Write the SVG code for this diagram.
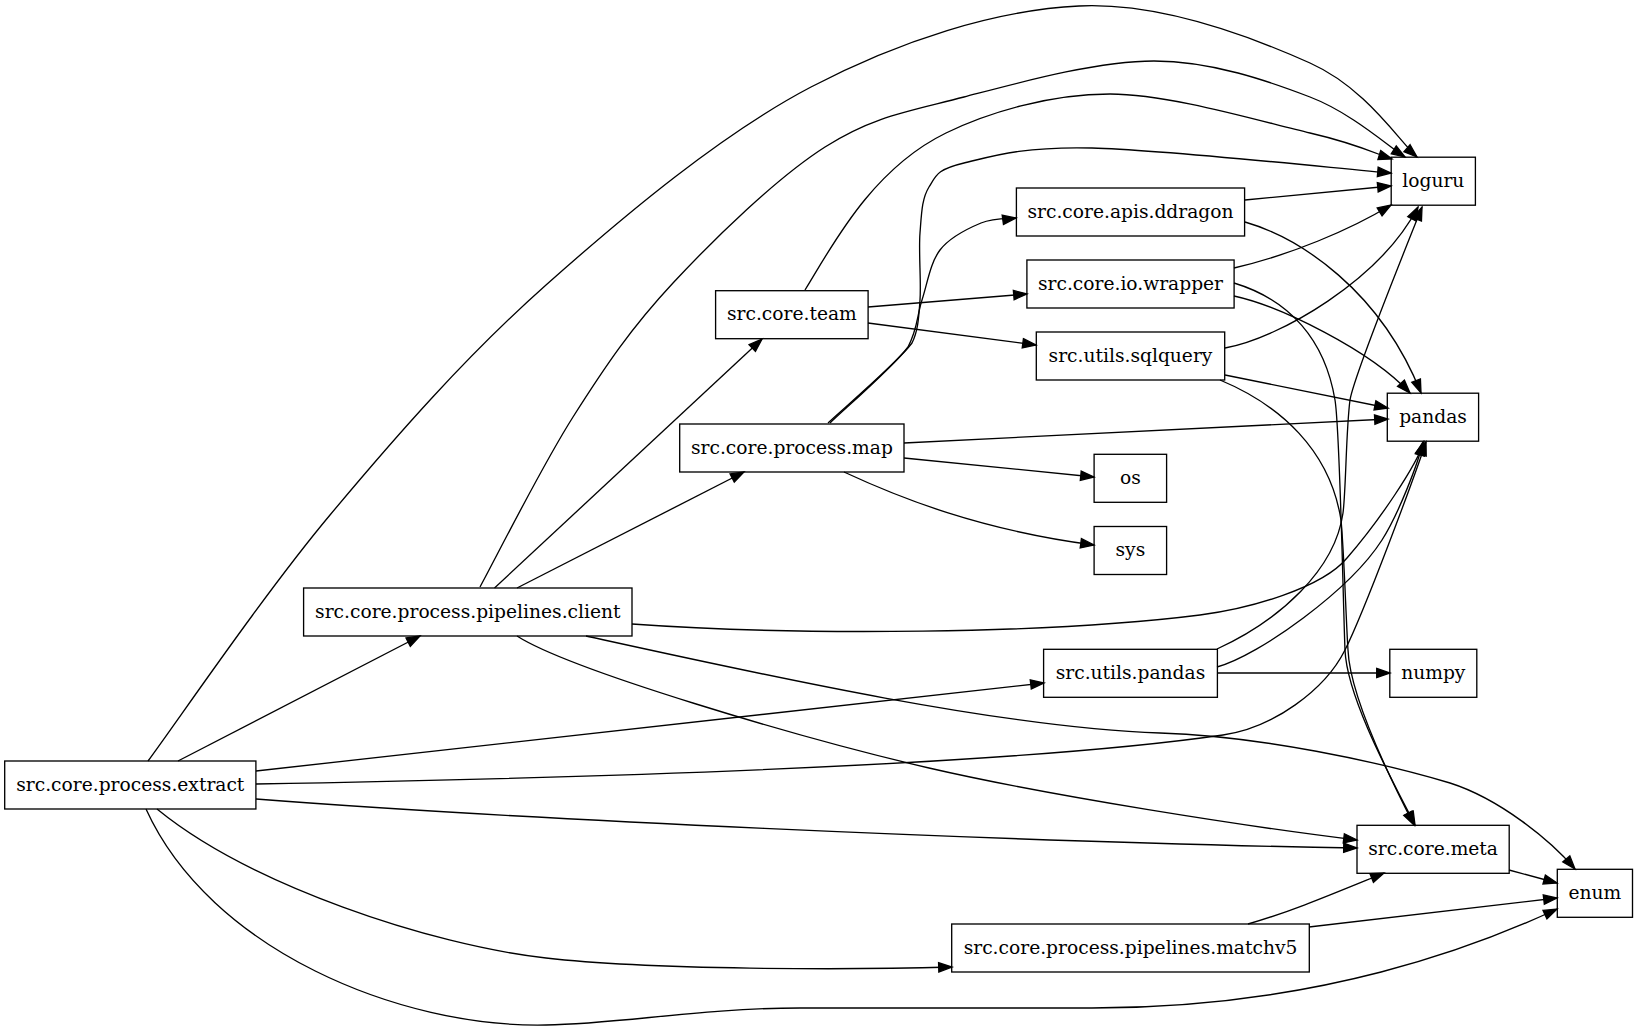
<svg xmlns="http://www.w3.org/2000/svg" width="1637" height="1031" viewBox="0 0 1637 1031">
<style>
.node rect{fill:none;stroke:#000;stroke-width:1.33}
.node text{font-family:"DejaVu Serif","Liberation Serif",serif;font-size:18.67px;text-anchor:middle;fill:#000}
.edges path{fill:none;stroke:#000;stroke-width:1.33;marker-end:url(#ah)}
</style>
<defs>
<marker id="ah" markerWidth="16" markerHeight="12" refX="13.3" refY="4.67" orient="auto" markerUnits="userSpaceOnUse" overflow="visible">
<path d="M0,0 L13.3,4.67 L0,9.33 z" fill="#000" stroke="#000" stroke-width="1.33"/>
</marker>
</defs>
<rect width="1637" height="1031" fill="#fff"/>
<g class="edges">
<path d="M148,761 C178.3,720 263.7,594.3 330,515 C396.3,435.7 465.8,356.3 546,285 C626.2,213.7 722.2,133.5 811,87 C899.8,40.5 995.8,10 1079,6 C1162.2,2 1253.7,37.8 1310,63 C1366.3,88.2 1399.2,141.3 1417,157"/>
<path d="M480,587 C495.5,558.7 540.8,467.7 573,417 C605.2,366.3 631,328 673,283 C715,238 776.5,178 825,147 C873.5,116 909.2,111.3 964,97 C1018.8,82.7 1096.3,61 1154,61 C1211.7,61 1268.2,81 1310,97 C1351.8,113 1389.2,147 1405,157"/>
<path d="M805,290 C830,250 870,170 946,133 C987.8,112.7 1049.3,94 1110,94 C1170.7,94 1263,122.2 1310,133 C1357,143.8 1378.3,154.7 1392,159"/>
<path d="M828,423 C842,409.7 896.7,363.5 912,343 C918,331 918.7,318.3 920,300 C921.3,281.7 918.5,251.8 920,233 C921.5,214.2 921.7,198.7 929,187 C936.3,175.3 936.8,169.5 964,163 C991.2,156.5 1020.8,146.3 1092,148 C1163.2,149.7 1341.2,168.8 1391,173"/>
<path d="M830,423 C843,410.3 892.7,367.5 908,347 C918,328 916.7,316.2 922,300 C927.3,283.8 930.2,262.8 940,250 C949.8,237.2 968.3,228.3 981,223 C993.7,217.7 1010.2,218.8 1016,218"/>
<path d="M494.5,588 L762,339"/>
<path d="M517,588 L744,472"/>
<path d="M178,761 L420,636"/>
<path d="M256,771 L1044,683"/>
<path d="M256,784 C700,776 1050,760 1223,735 C1273,728 1325,690 1345,650 C1365,610 1414,478 1426,442"/>
<path d="M256,799 C500,818 1000,842 1357,848"/>
<path d="M157,809 C250,885 430,945 546,958 C650,970 850,970 952,967"/>
<path d="M146,809 C210,950 400,1028 546,1025 C620,1024 700,1008 800,1008 C900,1008 1000,1008 1092,1008 C1320,1008 1480,945 1557,909"/>
<path d="M632,624 C800,636 1050,634 1200,615 C1250,608.7 1322,588 1347,558 C1380,520 1416,466 1424,442"/>
<path d="M517,636 C570,670 800,738 929,768 C1050,796 1250,827 1357,840"/>
<path d="M586,636 C750,672 1000,728 1160,733 C1260,736 1380,762 1450,783 C1500,799 1550,840 1575,869"/>
<path d="M868,307 L1027,294"/>
<path d="M868,323 L1036,345"/>
<path d="M904,443 L1388,419"/>
<path d="M904,458 L1094,477"/>
<path d="M844,472 C900,498 980,530 1094,545"/>
<path d="M1245,200 L1391,186"/>
<path d="M1245,222 C1300,238 1380,290 1421,393"/>
<path d="M1234,268 C1290,255 1350,230 1391,205"/>
<path d="M1234,296 C1280,306 1370,350 1410,393"/>
<path d="M1234,283 C1290,300 1325,340 1335,400 C1340,430 1343,600 1345,650 C1347,700 1397,789 1415,825"/>
<path d="M1225,348 C1280,338 1380,280 1418,207"/>
<path d="M1225,375 L1388,408"/>
<path d="M1220,380 C1280,405 1330,450 1341,520 C1344,550 1346,620 1348,650 C1350,700 1396,790 1414,825"/>
<path d="M1217,649 C1280,620 1335,570 1343,513 C1346,490 1346,430 1350,400 C1354,375 1405,250 1422,207"/>
<path d="M1217,667 C1260,655 1350,590 1382,540 C1398,515 1418,464 1423,442"/>
<path d="M1217,673 L1390,673"/>
<path d="M1509,870 L1557,883"/>
<path d="M1248,924 C1290,912 1330,895 1384,873"/>
<path d="M1309,927 L1557,898"/>
</g>
<g id="n-extract" class="node"><rect x="4.7" y="761" width="251.2" height="48"/><text x="130.3" y="790.6">src.core.process.extract</text></g>
<g id="n-client" class="node"><rect x="303.6" y="588" width="328.4" height="48"/><text x="467.8" y="617.6">src.core.process.pipelines.client</text></g>
<g id="n-team" class="node"><rect x="715.6" y="290.7" width="152.5" height="48"/><text x="791.9" y="320.3">src.core.team</text></g>
<g id="n-map" class="node"><rect x="679.7" y="424" width="224.3" height="48"/><text x="791.9" y="453.6">src.core.process.map</text></g>
<g id="n-ddragon" class="node"><rect x="1016.4" y="188" width="228.2" height="48"/><text x="1130.5" y="217.6">src.core.apis.ddragon</text></g>
<g id="n-iowrapper" class="node"><rect x="1026.9" y="260" width="207.2" height="48"/><text x="1130.5" y="289.6">src.core.io.wrapper</text></g>
<g id="n-sqlquery" class="node"><rect x="1036.3" y="332" width="188.4" height="48"/><text x="1130.5" y="361.6">src.utils.sqlquery</text></g>
<g id="n-os" class="node"><rect x="1094.1" y="454.3" width="72.5" height="48"/><text x="1130.4" y="483.9">os</text></g>
<g id="n-sys" class="node"><rect x="1094.1" y="526.5" width="72.5" height="48"/><text x="1130.4" y="556.1">sys</text></g>
<g id="n-utilspandas" class="node"><rect x="1043.6" y="649.3" width="173.8" height="48"/><text x="1130.5" y="678.9">src.utils.pandas</text></g>
<g id="n-matchv5" class="node"><rect x="951.7" y="924" width="357.6" height="48"/><text x="1130.5" y="953.6">src.core.process.pipelines.matchv5</text></g>
<g id="n-loguru" class="node"><rect x="1391.2" y="157.2" width="84.2" height="48"/><text x="1433.3" y="186.8">loguru</text></g>
<g id="n-pandas" class="node"><rect x="1387.3" y="393.2" width="91.3" height="48"/><text x="1433" y="422.8">pandas</text></g>
<g id="n-numpy" class="node"><rect x="1389.8" y="649.3" width="87" height="48"/><text x="1433.3" y="678.9">numpy</text></g>
<g id="n-meta" class="node"><rect x="1357" y="825.3" width="152.2" height="48"/><text x="1433.1" y="854.9">src.core.meta</text></g>
<g id="n-enum" class="node"><rect x="1557.3" y="869.3" width="75.2" height="48"/><text x="1594.9" y="898.9">enum</text></g>
</svg>
